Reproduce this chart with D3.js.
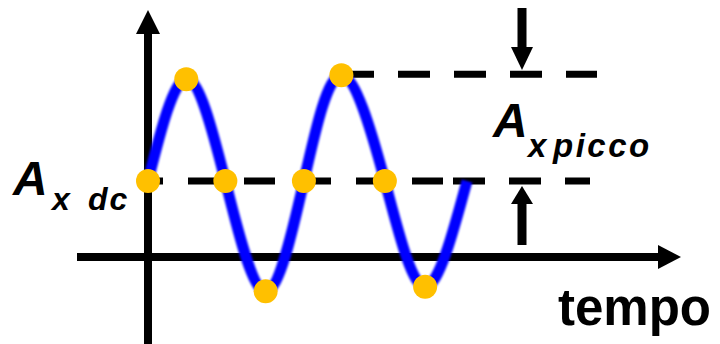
<!DOCTYPE html>
<html lang="it">
<head>
<meta charset="UTF-8">
<title>Ampiezza picco</title>
<script src="https://d3js.org/d3.v7.min.js"></script>
<style>
  body { margin: 0; background: #fff; }
  svg { display: block; }
  text { font-family: "Liberation Sans", Arial, sans-serif; font-weight: bold; fill: #000; }
</style>
</head>
<body>
<svg id="chart" width="720" height="344"></svg>
<script>
// wave nodes: time in quarter periods, value with dc level = 1
const waveT = [0, 0.96, 1.94, 2.95, 3.91, 4.85, 5.94, 6.95, 8.0];
const waveV = [1, 2.34, 1, -0.45, 1, 2.39, 1, -0.39, 1];
// orange markers on the first 8 nodes
const dotT = [0, 0.96, 1.94, 2.95, 3.91, 4.85, 5.94, 6.95];
const dotV = [1, 2.34, 1, -0.45, 1, 2.39, 1, -0.39];
const dcLevel = 1;
const peakLevel = 2.39;

const svg = d3.select('#chart');

const x = d3.scaleLinear().domain([0, 8]).range([148, 467]);
const y = d3.scaleLinear().domain([0, 1]).range([257, 181]);

const axisX0 = 77, axisX1 = 681;   // horizontal axis extent (px)
const axisY0 = 344, axisY1 = 10;   // vertical axis extent (px)
const arrowX = 522;

// axes
svg.append('line')
  .attr('x1', axisX0).attr('x2', axisX1 - 20)
  .attr('y1', y(0)).attr('y2', y(0))
  .attr('stroke', '#000').attr('stroke-width', 8);
svg.append('path')
  .attr('d', `M${axisX1},${y(0)} L${axisX1 - 23},${y(0) - 12} L${axisX1 - 23},${y(0) + 12} Z`)
  .attr('fill', '#000');

svg.append('line')
  .attr('x1', x(0)).attr('x2', x(0))
  .attr('y1', axisY0).attr('y2', axisY1 + 20)
  .attr('stroke', '#000').attr('stroke-width', 8);
svg.append('path')
  .attr('d', `M${x(0)},${axisY1} L${x(0) - 12},${axisY1 + 24} L${x(0) + 12},${axisY1 + 24} Z`)
  .attr('fill', '#000');

// dashed reference lines
const dash = (x1, x2, yy, pattern, offset) => svg.append('line')
  .attr('x1', x1).attr('x2', x2).attr('y1', yy).attr('y2', yy)
  .attr('stroke', '#000').attr('stroke-width', 7)
  .attr('stroke-dasharray', pattern)
  .attr('stroke-dashoffset', offset);

dash(x(0), x(8), y(dcLevel), '31 25', 16);
dash(453, 590, y(dcLevel), '32 24', 0);
dash(342, 597, y(peakLevel) - 1, '32 24', 0);

// amplitude arrows
svg.append('line')
  .attr('x1', arrowX).attr('x2', arrowX).attr('y1', 8).attr('y2', 52)
  .attr('stroke', '#000').attr('stroke-width', 9);
svg.append('path')
  .attr('d', `M${arrowX},70 L${arrowX - 11},47 L${arrowX + 11},47 Z`)
  .attr('fill', '#000');
svg.append('line')
  .attr('x1', arrowX).attr('x2', arrowX).attr('y1', 245).attr('y2', 200)
  .attr('stroke', '#000').attr('stroke-width', 9);
svg.append('path')
  .attr('d', `M${arrowX},186 L${arrowX - 11},204 L${arrowX + 11},204 Z`)
  .attr('fill', '#000');

// soft blue wave
const defs = svg.append('defs');
defs.append('filter').attr('id', 'soft')
  .attr('x', '-10%').attr('y', '-10%').attr('width', '120%').attr('height', '120%')
  .append('feGaussianBlur').attr('stdDeviation', 1.3);

const wave = waveT.map((t, i) => [t, waveV[i]]);
svg.append('path')
  .datum(wave)
  .attr('d', d3.line().x(d => x(d[0])).y(d => y(d[1])).curve(d3.curveNatural))
  .attr('fill', 'none')
  .attr('stroke', '#0000ff')
  .attr('stroke-width', 11)
  .attr('filter', 'url(#soft)');

svg.selectAll('circle.dot')
  .data(dotT.map((t, i) => [t, dotV[i]]))
  .join('circle')
  .attr('class', 'dot')
  .attr('cx', d => x(d[0]))
  .attr('cy', d => y(d[1]))
  .attr('r', 12)
  .attr('fill', '#ffc000');

// labels
const lab = svg.append('g').attr('font-style', 'italic');
lab.append('text').attr('x', 13).attr('y', 195).attr('font-size', 48).text('A');
lab.append('text').attr('x', 52).attr('y', 210).attr('font-size', 32).text('x');
lab.append('text').attr('x', 88).attr('y', 210).attr('font-size', 32)
  .attr('letter-spacing', 2).text('dc');

lab.append('text').attr('x', 493).attr('y', 137).attr('font-size', 48).text('A');
lab.append('text').attr('x', 528).attr('y', 157).attr('font-size', 33).text('x');
lab.append('text').attr('x', 553).attr('y', 157).attr('font-size', 33)
  .attr('letter-spacing', 2.5).text('picco');

svg.append('text').attr('x', 558).attr('y', 325).attr('font-size', 51).text('tempo');
</script>
</body>
</html>
